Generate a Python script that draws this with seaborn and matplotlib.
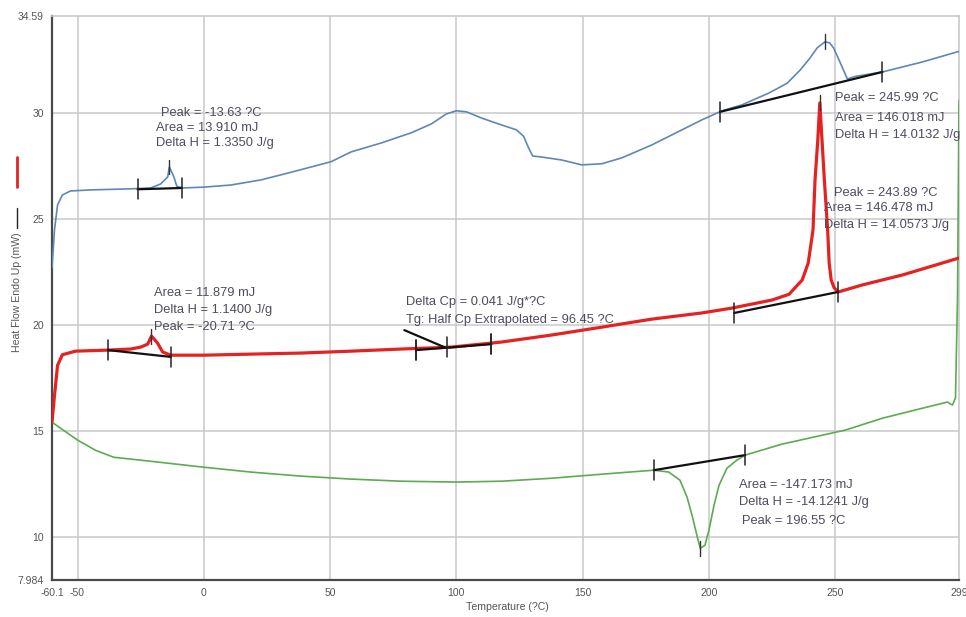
import matplotlib
matplotlib.use("Agg")
import matplotlib.pyplot as plt
from matplotlib.lines import Line2D
import pandas as pd
import seaborn as sns

# ---- DSC traces: temperature (?C) and heat flow (mW) ----
blue_t = [-60.1, -59.1, -57.9, -56.0, -52.8, -44.8, -29.0, -21.0, -17.1, -14.3, -13.63,
          -11.9, -10.7, -8.7, 0.0, 10.7, 22.6, 34.5, 50.4, 58.3, 70.2, 82.1, 90.1, 96.0,
          100.0, 104.0, 109.9, 117.9, 123.8, 126.6, 128.6, 130.2, 133.7, 141.7, 149.6,
          157.5, 165.5, 177.4, 189.3, 197.2, 205.2, 213.1, 223.8, 231.0, 236.2, 240.1,
          242.9, 245.99, 247.8, 249.4, 252.0, 254.8, 258.0, 268.7, 284.5, 299.0]
blue_hf = [22.7, 24.5, 25.66, 26.13, 26.32, 26.37, 26.42, 26.46, 26.65, 26.98, 27.45,
           27.0, 26.55, 26.46, 26.5, 26.6, 26.84, 27.2, 27.7, 28.16, 28.58, 29.06, 29.48,
           29.95, 30.1, 30.05, 29.76, 29.43, 29.2, 28.9, 28.35, 27.97, 27.92, 27.78, 27.55,
           27.6, 27.88, 28.49, 29.2, 29.67, 30.1, 30.38, 30.94, 31.4, 32.03, 32.6, 33.07,
           33.35, 33.3, 33.05, 32.36, 31.6, 31.72, 31.93, 32.4, 32.9]

red_t = [-60.1, -59.1, -57.9, -56.0, -50.8, -37.7, -29.0, -25.0, -22.2, -20.71, -18.3,
         -16.3, -13.1, 0.0, 18.7, 38.5, 58.3, 78.2, 98.0, 117.9, 137.7, 157.5, 177.4,
         197.2, 209.1, 225.0, 231.7, 236.9, 239.3, 241.2, 242.0, 243.1, 243.89, 245.7,
         247.0, 247.6, 248.4, 249.6, 251.2, 260.7, 276.6, 299.0]
red_hf = [15.42, 16.7, 18.1, 18.6, 18.77, 18.82, 18.87, 18.96, 19.1, 19.48, 19.15,
          18.73, 18.58, 18.58, 18.63, 18.68, 18.77, 18.87, 18.96, 19.2, 19.53, 19.9, 20.28,
          20.57, 20.8, 21.18, 21.45, 22.12, 22.92, 24.48, 26.84, 28.73, 30.47, 26.84,
          24.48, 22.92, 22.12, 21.75, 21.56, 21.89, 22.36, 23.16]

green_t = [-60.1, -50.0, -42.9, -35.7, -21.0, 0.0, 18.7, 38.5, 58.3, 78.2, 100.0, 117.9,
           137.7, 157.5, 178.2, 184.1, 188.5, 191.3, 193.3, 195.2, 196.55, 198.4, 200.0,
           202.0, 204.0, 207.1, 211.0, 214.3, 229.0, 254.0, 268.7, 284.5, 294.4, 296.4,
           297.6, 298.4, 299.0]
green_hf = [15.42, 14.58, 14.1, 13.77, 13.58, 13.3, 13.07, 12.88, 12.74, 12.64, 12.6, 12.64,
            12.78, 12.97, 13.16, 13.07, 12.69, 11.9, 11.04, 10.1, 9.48, 9.62, 10.33,
            11.5, 12.45, 13.25, 13.63, 13.87, 14.39, 15.05, 15.61, 16.08, 16.37, 16.23,
            16.56, 21.2, 30.6]

# ---- integration baselines (start/end temperature and heat flow) ----
base_blue_small = ([-26.2, -8.7], [26.4, 26.46])
base_blue_big = ([204.4, 268.7], [30.05, 31.93])
base_red_small = ([-38.0, -13.1], [18.82, 18.5])
base_red_big = ([210.0, 251.2], [20.57, 21.56])
base_green = ([178.2, 214.3], [13.16, 13.87])
tg_tangent = ([79.4, 95.2], [19.76, 18.96])
tg_base = ([84.1, 113.9], [18.82, 19.1])
tg_marks = [84.1, 96.45, 113.9]
tg_marks_hf = [18.82, 18.96, 19.1]

# peak markers (temperature, heat flow)
peaks_t = [-13.63, 245.99, -20.71, 243.89, 196.55]
peaks_hf = [27.45, 33.35, 19.48, 30.47, 9.48]

x_ticks = [-60.1, -50, 0, 50, 100, 150, 200, 250, 299]
x_ticklabels = ["-60.1", "-50", "0", "50", "100", "150", "200", "250", "299"]
y_ticks = [7.984, 10, 15, 20, 25, 30, 34.59]
y_ticklabels = ["7.984", "10", "15", "20", "25", "30", "34.59"]

sns.set_style("white")
plt.rcParams["font.family"] = ["Liberation Sans", "DejaVu Sans"]

fig = plt.figure(figsize=(9.66, 6.17), dpi=100)
ax = fig.add_axes([52 / 966, 1 - 580 / 617, 907 / 966, (580 - 15.5) / 617])

grid_c = "#c9c9c9"
for gx in [-50, 0, 50, 100, 150, 200, 250]:
    ax.axvline(gx, color=grid_c, lw=1.1, zorder=0)
for gy in [10, 15, 20, 25, 30]:
    ax.axhline(gy, color=grid_c, lw=1.1, zorder=0)

df = pd.concat([
    pd.DataFrame({"T": blue_t, "HF": blue_hf, "run": "blue"}),
    pd.DataFrame({"T": red_t, "HF": red_hf, "run": "red"}),
    pd.DataFrame({"T": green_t, "HF": green_hf, "run": "green"}),
])
line_kw = dict(x="T", y="HF", sort=False, estimator=None, ax=ax)
sns.lineplot(data=df[df.run == "blue"], color="#5f87b5", lw=1.2, zorder=3, **line_kw)
sns.lineplot(data=df[df.run == "green"], color="#5daa52", lw=1.2, zorder=3, **line_kw)
sns.lineplot(data=df[df.run == "red"], color="#e52222", lw=2.3, zorder=4, **line_kw)

tick_h = 0.48
for bx, by in [base_blue_small, base_blue_big, base_red_small, base_red_big, base_green, tg_base]:
    ax.plot(bx, by, color="#111111", lw=1.6, zorder=5)
    for xx, yy in zip(bx, by):
        ax.plot([xx, xx], [yy - tick_h, yy + tick_h], color="#222222", lw=1.1, zorder=5)
ax.plot(*tg_tangent, color="#111111", lw=1.6, zorder=5)
for xx, yy in zip(tg_marks, tg_marks_hf):
    ax.plot([xx, xx], [yy - tick_h, yy + tick_h], color="#222222", lw=1.1, zorder=5)
for xx, yy in zip(peaks_t, peaks_hf):
    ax.plot([xx, xx], [yy - 0.35, yy + 0.35], color="#333333", lw=1.0, zorder=6)

ax.set_xlim(-60.1, 299)
ax.set_ylim(7.984, 34.59)
ax.set_xticks(x_ticks)
ax.set_xticklabels(x_ticklabels)
ax.set_yticks(y_ticks)
ax.set_yticklabels(y_ticklabels)
ax.tick_params(axis="both", labelsize=7.5, labelcolor="#555555", length=3,
               width=1, color="#444444", direction="out", pad=3)
ax.set_xlabel("")
ax.set_ylabel("")
for side in ["left", "bottom"]:
    ax.spines[side].set_color("#4a4a4a")
    ax.spines[side].set_linewidth(1.6)
for side in ["top", "right"]:
    ax.spines[side].set_color(grid_c)
    ax.spines[side].set_linewidth(1.2)

txt_c = "#4f4c5e"
fs = 9.3
notes = [
    (-17.1, 30.0, "Peak = -13.63 ?C"),
    (-19.0, 29.3, "Area = 13.910 mJ"),
    (-19.0, 28.58, "Delta H = 1.3350 J/g"),
    (-19.8, 21.5, "Area = 11.879 mJ"),
    (-19.8, 20.7, "Delta H = 1.1400 J/g"),
    (-19.8, 19.9, "Peak = -20.71 ?C"),
    (80.2, 21.08, "Delta Cp = 0.041 J/g*?C"),
    (80.2, 20.24, "Tg: Half Cp Extrapolated = 96.45 ?C"),
    (250.0, 30.7, "Peak = 245.99 ?C"),
    (250.0, 29.76, "Area = 146.018 mJ"),
    (250.0, 28.96, "Delta H = 14.0132 J/g"),
    (249.6, 26.23, "Peak = 243.89 ?C"),
    (245.6, 25.52, "Area = 146.478 mJ"),
    (245.6, 24.72, "Delta H = 14.0573 J/g"),
    (211.9, 12.45, "Area = -147.173 mJ"),
    (211.9, 11.65, "Delta H = -14.1241 J/g"),
    (213.1, 10.75, "Peak = 196.55 ?C"),
]
for tx, ty, s in notes:
    ax.text(tx, ty, s, fontsize=fs, color=txt_c, ha="left", va="center", zorder=7)

# axis titles and the small run key on the left
fig.text(507 / 966, 1 - 607 / 617, "Temperature (?C)", fontsize=7.6, color="#555555",
         ha="center", va="center")
fig.text(17 / 966, 1 - 292 / 617, "Heat Flow Endo Up (mW)", fontsize=7.6, color="#555555",
         rotation=90, ha="center", va="center")
fig.add_artist(Line2D([17 / 966, 17 / 966], [1 - 157 / 617, 1 - 187 / 617],
                      color="#e52222", lw=2.0))
fig.add_artist(Line2D([17 / 966, 17 / 966], [1 - 208 / 617, 1 - 228 / 617],
                      color="#222222", lw=1.0))

fig.savefig("out.png", dpi=100)
